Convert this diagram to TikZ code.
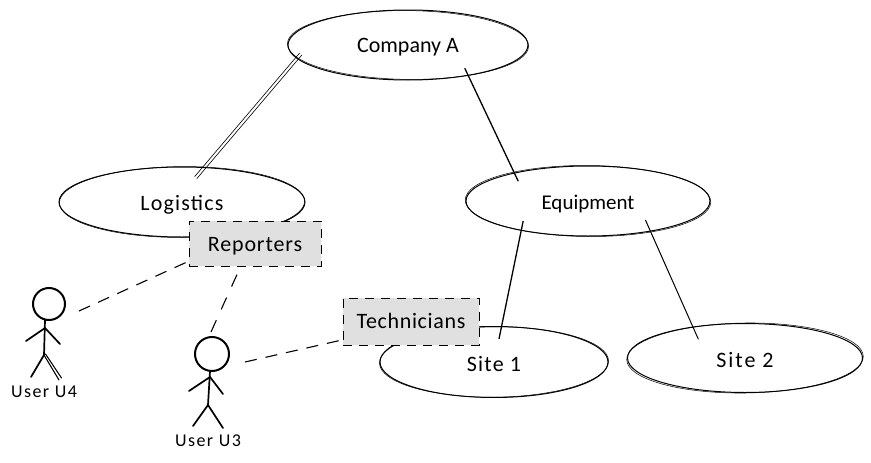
\documentclass[tikz,border=0pt]{standalone}
\usepackage{fontspec}
\setmainfont{Carlito}
\newfontfamily\wideA[LetterSpace=3]{Carlito}
\newfontfamily\wideB[LetterSpace=4]{Carlito}
\newfontfamily\wideC[LetterSpace=5.5]{Carlito}
\newfontfamily\wideD[LetterSpace=9]{Carlito}
\newfontfamily\wideE[LetterSpace=8]{Carlito}
\usetikzlibrary{shapes.geometric}
\newcommand{\lowered}[2][8pt]{\raisebox{-#1}[0pt][0pt]{#2}}
\tikzset{
  oval/.style={ellipse,draw,line width=1pt,inner sep=0pt,font=\fontsize{22}{26}\selectfont},
  group/.style={rectangle,draw,dashed,dash pattern=on 9pt off 7pt,line width=1pt,fill=black!12,inner sep=0pt,font=\fontsize{22}{26}\selectfont},
  link/.style={line width=1pt},
  member/.style={line width=1.1pt,dash pattern=on 12pt off 9pt},
  head/.style={circle,draw,line width=2pt,inner sep=0pt},
  limb/.style={line width=1.7pt,line cap=round},
  who/.style={font=\fontsize{18}{21}\selectfont,inner sep=0pt},
  ghost/.style={line width=0.5pt}
}
\begin{document}
\begin{tikzpicture}[x=1pt,y=-1pt]
\useasboundingbox (0,0) rectangle (871,463);
% ovals
\node[oval,minimum width=240pt,minimum height=70pt] (company) at (408,45) {\lowered{Company A}};
\node[oval,minimum width=246pt,minimum height=70pt] (logistics) at (182,202) {\lowered{\wideC Logistics}};
\node[oval,minimum width=244pt,minimum height=70pt,font=\fontsize{21}{25}\selectfont] (equipment) at (588,201) {\lowered{Equipment}};
\node[oval,minimum width=228pt,minimum height=71pt] (site1) at (494,362) {\lowered[9pt]{\wideC Site 1}};
\node[oval,minimum width=235pt,minimum height=69pt] (site2) at (745,358) {\lowered[9pt]{\wideD Site 2}};
% second pencil strokes
\draw[ghost] (company.center) ellipse [x radius=120.6,y radius=34.4,rotate=-0.6];
\draw[ghost] (logistics.center) ellipse [x radius=122.6,y radius=35.4,rotate=0.4];
\draw[ghost] (equipment.center) ellipse [x radius=122.8,y radius=35.5,rotate=-0.5];
\draw[ghost] (site1.center) ellipse [x radius=114.6,y radius=35.2,rotate=0.5];
\draw[ghost] (site2.center) ellipse [x radius=118.3,y radius=35.0,rotate=0.8];
% solid connectors
\draw[link,line width=0.6pt,transform canvas={xshift=-1.1pt,yshift=1pt},shorten <=-6pt,shorten >=-13.8pt] (company.187.6) -- (logistics.57.7);
\draw[link,line width=0.6pt,transform canvas={xshift=1.1pt,yshift=-1pt},shorten <=-6pt,shorten >=-13.8pt] (company.187.6) -- (logistics.57.7);
\draw[link,line width=1.3pt,shorten <=-8.3pt,shorten >=-9.4pt] (company.-27.5) -- (equipment.159.9);
\draw[link,line width=1.3pt,shorten <=-10pt,shorten >=-13pt] (equipment.204.8) -- (site1.78.7);
\draw[link,shorten <=-12.6pt,shorten >=-13.8pt] (equipment.-26.8) -- (site2.149.3);
% groups
\node[group,minimum width=132pt,minimum height=45pt] (reporters) at (255,243.5) {\lowered{\wideB Reporters}};
\node[group,minimum width=136pt,minimum height=47pt] (technicians) at (411,321.5) {\lowered[7pt]{\wideA Technicians}};
% user U4
\node[head,minimum size=32pt] (u4head) at (49,304) {};
\coordinate (u4neck) at (45,320);
\coordinate (u4hip) at (44,355);
\coordinate (u4shoulder) at (45,328);
\draw[limb] (u4neck) -- (u4hip);
\draw[limb] (u4shoulder) -- (26,341);
\draw[limb] (u4shoulder) -- (60,344);
\draw[limb] (u4hip) -- (31,377);
\draw[limb,line width=1.1pt] (u4hip) -- (59,380);
\draw[limb,line width=1.1pt] (45.5,354) -- (61.5,378);
\node[who] (u4label) at (44,392) {\wideE User U4};
% user U3
\node[head,minimum size=34pt] (u3head) at (212,354) {};
\coordinate (u3neck) at (210,371);
\coordinate (u3hip) at (208,405);
\coordinate (u3shoulder) at (210,377);
\draw[limb] (u3neck) -- (u3hip);
\draw[limb] (u3shoulder) -- (189,391);
\draw[limb] (u3shoulder) -- (223,394);
\draw[limb] (u3hip) -- (193,426);
\draw[limb] (u3hip) -- (223,428);
\node[who] (u3label) at (208,441) {\wideE User U3};
% membership connectors
\coordinate (u4edge) at (79,311);
\coordinate (u3top) at (211,332);
\coordinate (u3side) at (245,362);
\draw[member] (u4edge) -- (reporters.195);
\draw[member,dash pattern=on 13pt off 12pt,shorten <=9pt] (reporters.238) -- (u3top);
\draw[member] (u3side) -- (technicians.195);
\end{tikzpicture}
\end{document}
